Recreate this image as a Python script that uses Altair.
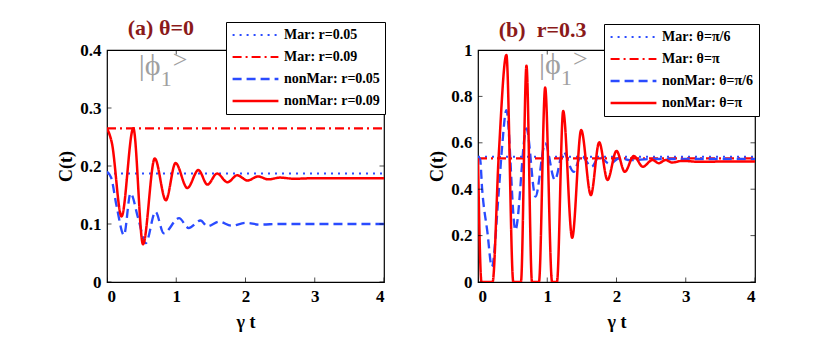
import altair as alt
import pandas as pd

# ---------------- data ----------------
SERIES_A = ["Mar: r=0.05", "Mar: r=0.09", "nonMar: r=0.05", "nonMar: r=0.09"]
SERIES_B = ["Mar: θ=π/6", "Mar: θ=π", "nonMar: θ=π/6", "nonMar: θ=π"]

COLORS = ["#2a4bff", "#ff0000", "#2a4bff", "#ff0000"]
DASHES = [[2, 5], [9, 4, 2, 4], [9, 5], [1, 0]]
WIDTHS = [2, 2.5, 3, 3]

# panel (a)  theta = 0
a_mar05_t = [0, 4]
a_mar05_v = [0.187, 0.187]
a_mar09_t = [0, 4]
a_mar09_v = [0.265, 0.265]
a_non05_t = [0, 0.06, 0.14, 0.245, 0.34, 0.45, 0.56, 0.70, 0.82, 1.04, 1.18,
             1.35, 1.45, 1.62, 1.80, 2.00, 2.20, 2.50, 3.00, 3.50, 4.00]
a_non05_v = [0.19, 0.18, 0.13, 0.081, 0.153, 0.11, 0.067, 0.121, 0.084, 0.110, 0.093,
             0.106, 0.096, 0.104, 0.097, 0.102, 0.099, 0.100, 0.100, 0.100, 0.100]
a_non09_t = [0, 0.07, 0.21, 0.38, 0.52, 0.69, 0.85, 0.99, 1.16, 1.32, 1.45, 1.59,
             1.74, 1.88, 2.03, 2.18, 2.33, 2.50, 2.70, 3.00, 3.50, 4.00]
a_non09_v = [0.265, 0.24, 0.113, 0.265, 0.065, 0.213, 0.141, 0.205, 0.162, 0.193, 0.168, 0.187,
             0.172, 0.184, 0.175, 0.182, 0.177, 0.180, 0.178, 0.179, 0.179, 0.179]

# panel (b)  r = 0.3
b_mar6_t = [0, 4]
b_mar6_v = [0.540, 0.540]
b_marpi_t = [0, 4]
b_marpi_v = [0.533, 0.533]
b_non6_t = [0, 0.03, 0.06, 0.135, 0.20, 0.30, 0.35, 0.41, 0.54, 0.70, 0.83, 0.97,
            1.11, 1.23, 1.38, 1.49, 1.64, 1.75, 1.90, 2.05, 2.20, 2.50, 3.00, 4.00]
b_non6_v = [0.54, 0.53, 0.40, 0.217, 0.066, 0.39, 0.59, 0.741, 0.224, 0.662, 0.368, 0.598,
            0.44, 0.562, 0.475, 0.545, 0.497, 0.54, 0.51, 0.535, 0.525, 0.53, 0.53, 0.53]
b_nonpi_t = [0, 0.05, 0.21, 0.30, 0.41, 0.51, 0.62, 0.70, 0.78, 0.88, 0.97, 1.07, 1.14,
             1.23, 1.36, 1.49, 1.63, 1.75, 1.87, 2.00, 2.12, 2.25, 2.38, 2.52, 2.61,
             2.71, 2.80, 2.95, 3.20, 3.50, 4.00]
b_nonpi_v = [0.533, 0, 0, 0.55, 0.978, 0, 0, 0.932, 0, 0, 0.838, 0, 0,
             0.737, 0.191, 0.655, 0.375, 0.602, 0.44, 0.565, 0.475, 0.543, 0.497, 0.526, 0.512,
             0.526, 0.515, 0.522, 0.518, 0.519, 0.519]

A_TICKS_Y = [0, 0.1, 0.2, 0.3, 0.4]
B_TICKS_Y = [0, 0.2, 0.4, 0.6, 0.8, 1]
X_TICKS = [0, 1, 2, 3, 4]

FONT = "Liberation Serif"
W, H = 277, 232


def make_df(series, ts, vs):
    rows = []
    for s, t_list, v_list in zip(series, ts, vs):
        for i, (t, v) in enumerate(zip(t_list, v_list)):
            rows.append({"series": s, "t": t, "C": v, "i": i})
    return pd.DataFrame(rows)


def panel(df, series, ymax, yticks, title, legend_x, legend_y, ann_t, ann_c):
    xs = alt.Scale(domain=[0, 4], nice=False)
    ys = alt.Scale(domain=[0, ymax], nice=False)
    lines = alt.Chart(df).mark_line(interpolate="monotone", clip=True).encode(
        x=alt.X("t:Q", scale=xs, axis=alt.Axis(values=X_TICKS, title="γ t", format="d",
                                                titlePadding=9)),
        y=alt.Y("C:Q", scale=ys, axis=alt.Axis(values=yticks, title="C(t)", format="~g")),
        color=alt.Color("series:N", scale=alt.Scale(domain=series, range=COLORS),
                        sort=series,
                        legend=alt.Legend(
                            title=None, orient="none", legendX=legend_x, legendY=legend_y,
                            fillColor="white", strokeColor="black", padding=5,
                            labelFont=FONT, labelFontWeight="bold", labelFontSize=14,
                            labelColor="black", symbolType="stroke", symbolSize=2100,
                            symbolStrokeWidth=2.5, rowPadding=6, clipHeight=16,
                            labelOffset=4)),
        strokeDash=alt.StrokeDash("series:N", scale=alt.Scale(domain=series, range=DASHES),
                                  sort=series),
        strokeWidth=alt.StrokeWidth("series:N", scale=alt.Scale(domain=series, range=WIDTHS),
                                    legend=None),
        order=alt.Order("i:Q"),
    )
    # inward ticks on all four sides
    ty = pd.DataFrame({"C": yticks})
    tx = pd.DataFrame({"t": X_TICKS})
    yl = alt.Chart(ty).mark_tick(clip=True, color="black", thickness=1, size=9).encode(
        y=alt.Y("C:Q", scale=ys), x=alt.value(0))
    yr = alt.Chart(ty).mark_tick(clip=True, color="black", thickness=1, size=9).encode(
        y=alt.Y("C:Q", scale=ys), x=alt.value(W))
    xb = alt.Chart(tx).mark_tick(clip=True, color="black", thickness=1, size=9).encode(
        x=alt.X("t:Q", scale=xs), y=alt.value(H))
    xt = alt.Chart(tx).mark_tick(clip=True, color="black", thickness=1, size=9).encode(
        x=alt.X("t:Q", scale=xs), y=alt.value(0))

    ann = pd.DataFrame({"t": [ann_t], "C": [ann_c]})
    tb = alt.Chart(ann)
    phi = tb.mark_text(text="|ϕ", font=FONT, fontSize=30, color="#a0a0a0",
                       align="left", baseline="middle").encode(x="t:Q", y="C:Q")
    one = tb.mark_text(text="1", font=FONT, fontSize=22, color="#a0a0a0",
                       align="left", baseline="middle", dx=22, dy=13).encode(x="t:Q", y="C:Q")
    gt = tb.mark_text(text=">", font=FONT, fontSize=26, color="#a0a0a0",
                      align="left", baseline="middle", dx=34, dy=-6).encode(x="t:Q", y="C:Q")
    return alt.layer(lines, yl, yr, xb, xt, phi, one, gt).properties(
        width=W, height=H,
        title=alt.TitleParams(title, anchor="start", dx=70, font=FONT, fontSize=22,
                              fontWeight="bold", color="#8b1a1a", offset=-18),
    )


df_a = make_df(SERIES_A, [a_mar05_t, a_mar09_t, a_non05_t, a_non09_t],
               [a_mar05_v, a_mar09_v, a_non05_v, a_non09_v])
df_b = make_df(SERIES_B, [b_mar6_t, b_marpi_t, b_non6_t, b_nonpi_t],
               [b_mar6_v, b_marpi_v, b_non6_v, b_nonpi_v])

pa = panel(df_a, SERIES_A, 0.4, A_TICKS_Y, "(a) θ=0", 119, -28, 0.46, 0.372)
pb = panel(df_b, SERIES_B, 1.0, B_TICKS_Y, "(b)\u00a0 r=0.3", 126, -26, 0.88, 0.935)

chart = alt.hconcat(pa, pb, spacing=41).resolve_scale(
    x="independent", y="independent", color="independent",
    strokeDash="independent", strokeWidth="independent"
).resolve_legend(color="independent", strokeDash="independent").properties(
    padding={"left": 49, "top": 7, "right": 5, "bottom": 5}
).configure_view(stroke="black", strokeWidth=1.2).configure_axis(
    labelFont=FONT, labelFontWeight="bold", labelFontSize=17, labelColor="black",
    titleFont=FONT, titleFontWeight="bold", titleFontSize=18, titleColor="black",
    ticks=False, domain=False, grid=False, labelPadding=6, titlePadding=4,
)

chart.save("out.html", embed_options={"renderer": "svg", "actions": False})
